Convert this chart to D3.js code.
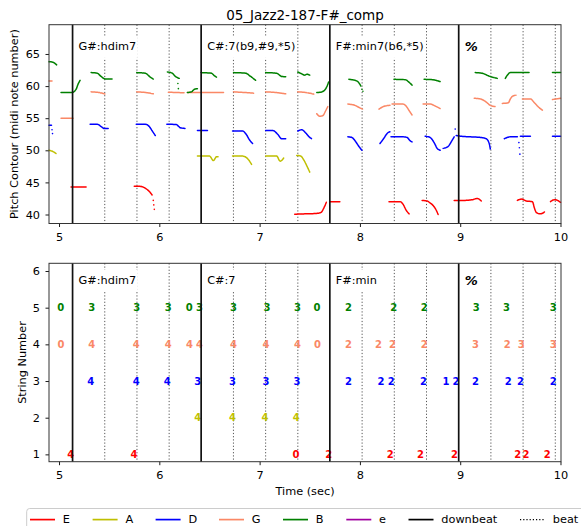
<!DOCTYPE html>
<html><head><meta charset="utf-8">
<script src="https://cdn.jsdelivr.net/npm/d3@7/dist/d3.min.js"></script>
<style>html,body{margin:0;padding:0;background:#fff;}svg{display:block;font-family:"DejaVu Sans",sans-serif;}</style>
</head><body>
<script>
// ---------------- data ----------------
const title = "05_Jazz2-187-F#_comp";
const downbeats = [5.135, 6.417, 7.70, 8.985];
const beats = [5.456, 5.777, 6.098, 6.739, 7.06, 7.381, 8.022, 8.343, 8.664, 9.306, 9.627, 9.948];
const chordsTop = ["G#:hdim7", "C#:7(b9,#9,*5)", "F#:min7(b6,*5)", "%"];
const chordsBottom = ["G#:hdim7", "C#:7", "F#:min", "%"];
const xTicks = [5, 6, 7, 8, 9, 10];
const yTicksTop = [40, 45, 50, 55, 60, 65];
const yTicksBottom = [1, 2, 3, 4, 5, 6];
const stringNames = ["E", "A", "D", "G", "B", "e"];
const stringColors = ["#ff0000", "#bfbf00", "#0000ff", "#fa8866", "#008000", "#a000a0"];

// pitch contours (time sec, midi) per string, list of segments
const contourE = [
  [[5.12,44.27],[5.27,44.27]],
  [[5.75,44.4],[5.80,44.4],[5.86,44.1],[5.90,43.6],[5.93,43.0]],
  [[7.35,40.05],[7.45,40.1],[7.55,40.15],[7.61,40.3],[7.64,41.0],[7.665,41.9]],
  [[7.70,42.0],[7.80,42.0]],
  [[8.29,42.0],[8.40,42.0],[8.43,41.6],[8.46,40.7],[8.49,40.1]],
  [[8.62,42.2],[8.67,42.1],[8.70,41.8],[8.73,41.4],[8.76,40.7],[8.78,40.0]],
  [[8.94,42.2],[9.05,42.2],[9.12,42.3],[9.17,42.5],[9.21,42.1]],
  [[9.57,42.2],[9.61,42.4],[9.66,42.1],[9.72,42.0],[9.74,41.0],[9.76,40.3],[9.80,40.1],[9.84,40.4]],
  [[9.90,42.0],[9.94,42.3],[9.97,42.2],[10.0,41.9]]
];
const contourA = [
  [[4.90,50.0],[4.94,49.8],[4.97,49.5]],
  [[6.38,49.1],[6.50,49.1],[6.54,48.4],[6.57,49.0],[6.59,49.0]],
  [[6.73,49.1],[6.83,49.1],[6.88,48.7],[6.92,47.8]],
  [[7.06,49.1],[7.17,49.1],[7.205,48.3],[7.24,48.8]],
  [[7.37,49.2],[7.41,49.1],[7.44,48.5],[7.47,47.6],[7.50,46.6]]
];
const contourD = [
  [[4.90,53.9],[4.925,53.9]],
  [[5.31,54.06],[5.38,54.06],[5.42,53.7],[5.45,53.4],[5.49,53.4]],
  [[5.77,54.06],[5.86,54.06],[5.90,53.7],[5.93,53.0],[5.96,52.3]],
  [[6.075,54.06],[6.17,54.0],[6.21,53.5],[6.26,53.4]],
  [[6.38,53.1],[6.48,53.1]],
  [[6.73,53.0],[6.83,53.0],[6.87,52.4],[6.90,51.6],[6.93,51.05]],
  [[7.06,53.1],[7.13,53.1],[7.18,52.5],[7.22,51.8],[7.26,51.8]],
  [[7.38,53.0],[7.42,53.2],[7.46,52.7],[7.50,52.0],[7.52,51.8]],
  [[7.88,52.1],[7.92,52.0],[7.96,51.3],[7.99,50.6],[8.02,50.0]],
  [[8.20,51.05],[8.24,51.9],[8.27,52.6],[8.30,52.9]],
  [[8.31,52.1],[8.42,52.1],[8.47,52.0],[8.50,51.5],[8.52,51.3]],
  [[8.65,52.2],[8.70,52.0],[8.74,51.2],[8.77,50.3],[8.80,50.0]],
  [[8.83,50.3],[8.88,50.6],[8.91,51.3],[8.94,52.1]],
  [[8.96,52.3],[9.0,52.2],[9.1,52.1],[9.2,52.0],[9.26,51.8],[9.29,51.0],[9.30,50.2]],
  [[9.44,51.8],[9.50,52.1],[9.57,52.1]],
  [[9.60,52.2],[9.70,52.2]],
  [[9.92,52.2],[10.0,52.2]]
];
const contourG = [
  [[4.90,60.8],[4.93,60.8]],
  [[5.02,55.0],[5.14,55.0]],
  [[5.32,59.1],[5.40,59.0],[5.46,58.75]],
  [[5.775,59.1],[5.86,59.0],[5.94,58.8]],
  [[6.09,59.05],[6.25,58.95]],
  [[6.28,59.0],[6.40,59.0],[6.64,59.0]],
  [[6.74,59.1],[6.85,59.0],[6.94,58.9]],
  [[7.06,59.1],[7.16,59.0],[7.26,58.8]],
  [[7.38,59.1],[7.46,59.0],[7.54,58.75]],
  [[7.57,55.7],[7.60,55.3],[7.63,55.4],[7.66,56.2],[7.68,56.8]],
  [[7.88,57.2],[7.95,57.0],[8.0,56.6],[8.03,56.4]],
  [[8.19,56.4],[8.25,56.9],[8.30,57.0]],
  [[8.32,57.2],[8.43,57.2],[8.46,56.9],[8.49,56.2],[8.52,55.5]],
  [[8.63,57.2],[8.70,57.2],[8.75,56.9],[8.80,56.5]],
  [[9.14,58.1],[9.20,58.0],[9.26,57.5],[9.30,57.0],[9.35,56.8]],
  [[9.42,57.3],[9.48,57.4],[9.50,58.0],[9.52,58.4],[9.56,58.6]],
  [[9.62,58.0],[9.70,58.0],[9.74,57.4],[9.79,56.6],[9.82,56.25]],
  [[9.92,57.9],[10.0,58.1]]
];
const contourB = [
  [[4.90,63.8],[4.94,63.7],[4.977,63.3]],
  [[5.02,59.0],[5.13,59.0],[5.17,59.5],[5.19,60.3],[5.21,60.9]],
  [[5.32,62.1],[5.38,62.0],[5.42,61.5],[5.46,61.1],[5.53,61.1]],
  [[5.775,62.1],[5.86,62.0],[5.91,61.4],[5.94,61.1]],
  [[6.08,62.2],[6.13,62.0],[6.16,61.5],[6.20,61.2]],
  [[6.28,59.0],[6.32,59.1],[6.35,59.5],[6.38,59.6]],
  [[6.417,62.1],[6.52,62.0],[6.55,61.6],[6.57,61.4]],
  [[6.74,62.1],[6.86,62.0],[6.91,61.5],[6.96,60.9]],
  [[7.06,62.1],[7.17,62.0],[7.22,61.5],[7.26,61.45]],
  [[7.38,62.2],[7.42,61.9],[7.45,61.7],[7.47,61.85],[7.50,61.7]],
  [[7.57,59.0],[7.62,59.1],[7.66,59.6],[7.69,60.7]],
  [[7.89,61.05],[7.95,60.9],[7.99,60.5],[8.01,60.0]],
  [[8.34,61.05],[8.45,61.0],[8.49,60.6],[8.52,60.15]],
  [[8.64,61.05],[8.72,61.0],[8.80,60.7]],
  [[9.15,62.1],[9.22,62.0],[9.28,61.6],[9.37,61.2]],
  [[9.45,61.2],[9.47,61.7],[9.50,62.1],[9.69,62.1]],
  [[9.92,62.1],[10.0,62.1]]
];
// isolated scattered contour points [time, midi, stringIndex]
const scatterPts = [
  [5.94,42.2,0],[5.945,41.5,0],[5.95,40.8,0],
  [4.93,53.2,2],[4.935,52.6,2],[8.95,53.3,2],[9.585,51.2,2],[9.59,50.4,2],[9.595,49.4,2],
  [6.185,60.4,4],[6.19,59.6,4],[8.02,59.5,4],[8.03,59.2,4]
];

// fret onsets [time, fret] per string
const fretsE = [[5.116,4],[5.748,4],[7.362,0],[7.688,2],[8.303,2],[8.603,2],[8.942,2],[9.574,2],[9.657,2],[9.867,2]];
const fretsA = [[6.384,4],[6.729,4],[7.054,4],[7.365,4]];
const fretsD = [[5.316,4],[5.77,4],[6.08,4],[6.384,3],[6.729,3],[7.063,3],[7.372,3],[7.887,2],[8.21,2],[8.313,2],[8.635,2],[8.859,1],[8.959,2],[9.152,2],[9.478,2],[9.60,2],[9.927,2]];
const fretsG = [[5.02,0],[5.326,4],[5.77,4],[6.09,4],[6.30,4],[6.40,4],[6.739,4],[7.063,4],[7.378,4],[7.578,0],[7.887,2],[8.186,2],[8.326,2],[8.642,2],[9.152,3],[9.468,2],[9.608,3],[9.927,3]];
const fretsB = [[5.017,0],[5.326,3],[5.775,3],[6.09,3],[6.297,0],[6.40,3],[6.74,3],[7.073,3],[7.378,3],[7.572,0],[7.887,2],[8.336,2],[8.642,2],[9.159,3],[9.461,3],[9.927,3]];

const legendLabels = ["E","A","D","G","B","e","downbeat","beat"];

// ---------------- drawing ----------------
const W = 581, H = 526;
const svg = d3.select("body").append("svg").attr("width", W).attr("height", H);
const FONT = 11.3;

const x = d3.scaleLinear().domain([4.9, 10.005]).range([49, 561]);
const yTop = d3.scaleLinear().domain([38.6, 69.56]).range([223.5, 24.7]);
const yBot = d3.scaleLinear().domain([0.8, 6.21]).range([461.7, 263.3]);

svg.append("text").attr("x", 305).attr("y", 19.5).attr("text-anchor", "middle")
  .attr("font-size", 13.5).attr("fill", "#000").text(title);

function panel(y, ticksY, chords, labelY, ylabel, ylabelX) {
  const g = svg.append("g");
  const [y0, y1] = y.range();
  // beat lines
  g.selectAll(".beat").data(beats).join("line")
    .attr("x1", d => x(d)).attr("x2", d => x(d)).attr("y1", y1).attr("y2", y0)
    .attr("stroke", "#555").attr("stroke-width", 1).attr("stroke-dasharray", "1.2,2");
  // chord labels with white box
  const lg = g.append("g");
  chords.forEach((c, i) => {
    const isSym = c === "%";
    const t = lg.append("text").attr("x", x(downbeats[i] + 0.06)).attr("y", y(labelY))
      .attr("dominant-baseline", "central")
      .attr("font-size", isSym ? 13 : FONT)
      .attr("font-weight", isSym ? "bold" : "normal")
      .attr("font-style", isSym ? "italic" : "normal")
      .attr("fill", "#000").text(c);
    const bb = t.node().getBBox();
    lg.insert("rect", "text").attr("x", bb.x - 1.5).attr("width", bb.width + 3)
      .attr("y", y(labelY) - 11).attr("height", 22).attr("fill", "#fff");
  });
  // axes
  const ax = g.append("g").attr("transform", `translate(0,${y0})`)
    .call(d3.axisBottom(x).tickValues(xTicks).tickSize(3.5).tickPadding(5.5).tickFormat(d3.format("d")));
  const ay = g.append("g").attr("transform", `translate(49,0)`)
    .call(d3.axisLeft(y).tickValues(ticksY).tickSize(3.5).tickPadding(5.5).tickFormat(d3.format("d")));
  [ax, ay].forEach(a => {
    a.select(".domain").remove();
    a.selectAll("text").attr("font-size", FONT).attr("font-family", "DejaVu Sans").attr("fill", "#000");
    a.selectAll("line").attr("stroke", "#000").attr("stroke-width", 0.9);
  });
  g.append("text").attr("transform", `translate(${ylabelX},${(y0 + y1) / 2}) rotate(-90)`)
    .attr("text-anchor", "middle").attr("dominant-baseline", "central")
    .attr("font-size", FONT).attr("fill", "#000").text(ylabel);
  return g;
}

const gTop = panel(yTop, yTicksTop, chordsTop, 66.1, "Pitch Contour (midi note number)", 14);
const gBot = panel(yBot, yTicksBottom, chordsBottom, 5.73, "String Number", 22.5);

// contours
const line = d3.line().x(d => x(d[0])).y(d => yTop(d[1])).curve(d3.curveMonotoneX);
[contourE, contourA, contourD, contourG, contourB].forEach((segs, si) => {
  gTop.append("g").selectAll("path").data(segs).join("path")
    .attr("d", line).attr("fill", "none").attr("stroke", stringColors[si])
    .attr("stroke-width", 1.5).attr("stroke-linecap", "round").attr("stroke-dasharray", "1.3,0.5");
});
gTop.append("g").selectAll("circle").data(scatterPts).join("circle")
  .attr("cx", d => x(d[0])).attr("cy", d => yTop(d[1])).attr("r", 0.8)
  .attr("fill", d => stringColors[d[2]]);

// frets
[fretsE, fretsA, fretsD, fretsG, fretsB].forEach((fr, si) => {
  gBot.append("g").selectAll("text").data(fr).join("text")
    .attr("x", d => x(d[0])).attr("y", yBot(si + 1))
    .attr("text-anchor", "middle").attr("dominant-baseline", "central")
    .attr("font-size", 10).attr("font-weight", "bold").attr("fill", stringColors[si])
    .text(d => d[1]);
});

// downbeats and frames on top
[[yTop, gTop], [yBot, gBot]].forEach(([y, g]) => {
  const [y0, y1] = y.range();
  g.selectAll(".db").data(downbeats).join("line").attr("class", "db")
    .attr("x1", d => x(d)).attr("x2", d => x(d)).attr("y1", y1).attr("y2", y0)
    .attr("stroke", "#111").attr("stroke-width", 1.7);
  g.append("rect").attr("x", x.range()[0]).attr("y", y1)
    .attr("width", x.range()[1] - x.range()[0]).attr("height", y0 - y1)
    .attr("fill", "none").attr("stroke", "#333").attr("stroke-width", 1);
});

svg.append("text").attr("x", 305).attr("y", 495).attr("text-anchor", "middle")
  .attr("font-size", FONT).attr("fill", "#000").text("Time (sec)");

// legend
const lgd = svg.append("g");
lgd.append("rect").attr("x", 26.7).attr("y", 508.5).attr("width", 570).attr("height", 40)
  .attr("rx", 3).attr("fill", "#fff").attr("fill-opacity", 0.8).attr("stroke", "#ccc").attr("stroke-width", 1);
const legX = [30, 92.6, 155.6, 219, 283, 346.3, 408.5, 520];
const legColors = stringColors.concat(["#000", "#000"]);
legendLabels.forEach((lab, i) => {
  const ly = 519.6;
  lgd.append("line").attr("x1", legX[i]).attr("x2", legX[i] + 25).attr("y1", ly).attr("y2", ly)
    .attr("stroke", legColors[i]).attr("stroke-width", i === 7 ? 1.2 : 1.7)
    .attr("stroke-dasharray", i === 7 ? "1.2,2" : null);
  lgd.append("text").attr("x", legX[i] + 32.8).attr("y", ly).attr("dominant-baseline", "central")
    .attr("font-size", FONT).attr("fill", "#000").text(lab);
});
</script>
</body></html>
